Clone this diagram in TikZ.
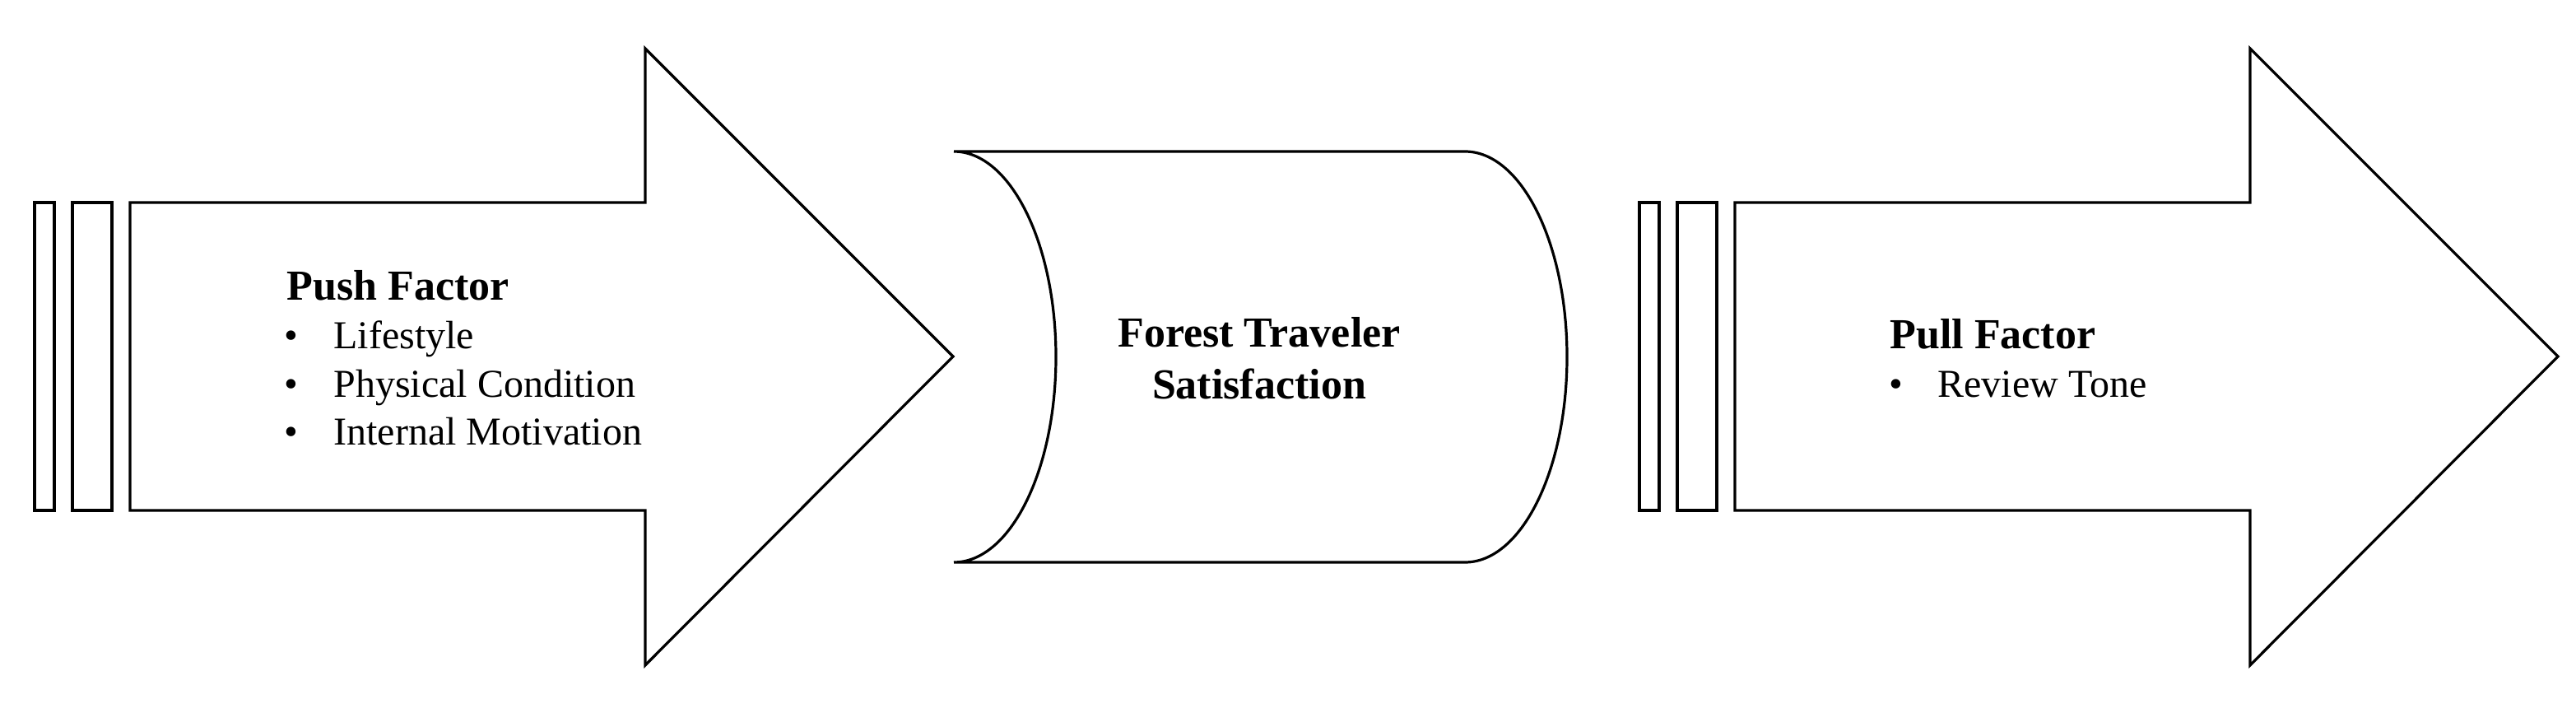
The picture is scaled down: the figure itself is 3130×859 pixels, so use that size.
\documentclass[tikz,border=0pt]{standalone}
\usepackage{fontspec}
\setmainfont{Liberation Serif}
\begin{document}
\begin{tikzpicture}[x=0.5pt,y=0.5pt,
  shapeline/.style={draw=black, line width=1.6pt, line join=miter, fill=white},
  headtext/.style={font=\fontsize{26}{31}\selectfont\bfseries, inner sep=0pt},
  itemtext/.style={font=\fontsize{24}{29}\selectfont, inner sep=0pt}]
\useasboundingbox (0,0) rectangle (3130,859);
% left arrow (push)
\draw[shapeline] (42,239) rectangle (66,613);
\draw[shapeline] (88,239) rectangle (136,613);
\draw[shapeline] (158,613) -- (784,613) -- (784,800) -- (1158,426) -- (784,51) -- (784,239) -- (158,239) -- cycle;
% middle shape
\draw[shapeline] (1159,675) arc[start angle=90, end angle=-90, x radius=124, y radius=249.5]
  -- (1780,176) arc[start angle=-90, end angle=90, x radius=124, y radius=249.5] -- cycle;
% right arrow (pull)
\draw[shapeline] (1992,239) rectangle (2016,613);
\draw[shapeline] (2038,239) rectangle (2086,613);
\draw[shapeline] (2108,613) -- (2734,613) -- (2734,800) -- (3108,426) -- (2734,51) -- (2734,239) -- (2108,239) -- cycle;
% push texts
\node[headtext, anchor=base west] (pushT) at (348,495) {Push Factor};
\node[itemtext, anchor=base] (pb1) at (354,436) {•};
\node[itemtext, anchor=base west] (p1) at (405,436) {Lifestyle};
\node[itemtext, anchor=base] (pb2) at (354,377) {•};
\node[itemtext, anchor=base west] (p2) at (405,377) {Physical Condition};
\node[itemtext, anchor=base] (pb3) at (354,319) {•};
\node[itemtext, anchor=base west] (p3) at (405,319) {Internal Motivation};
% middle texts
\node[headtext, anchor=base] (c1) at (1530,438) {Forest Traveler};
\node[headtext, anchor=base] (c2) at (1530,375) {Satisfaction};
% pull texts
\node[headtext, anchor=base west] (pullT) at (2296,436) {Pull Factor};
\node[itemtext, anchor=base] (qb1) at (2304,377) {•};
\node[itemtext, anchor=base west] (q1) at (2354,377) {Review Tone};
\end{tikzpicture}
\end{document}
